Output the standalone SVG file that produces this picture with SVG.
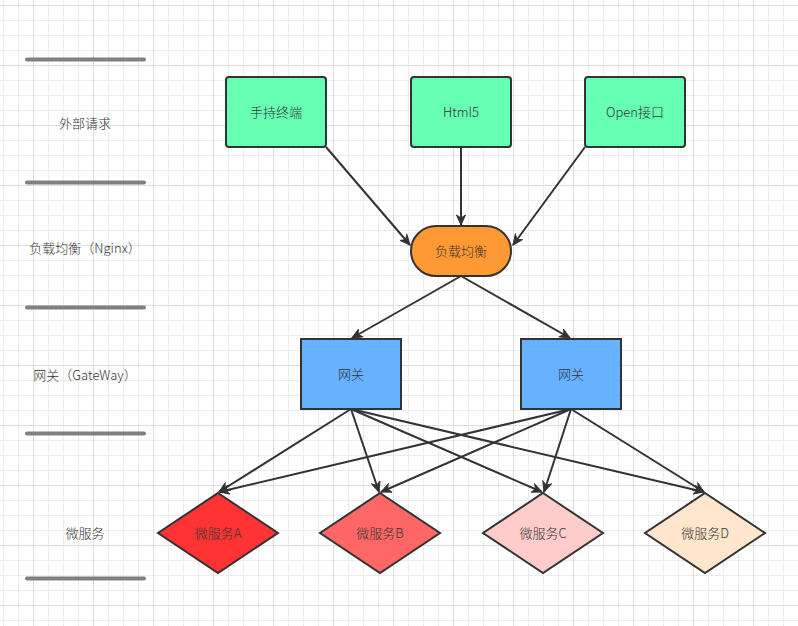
<svg xmlns="http://www.w3.org/2000/svg" width="798" height="626" viewBox="0 0 798 626">
<defs>
<pattern id="gridMinor" x="3" y="5" width="15" height="15" patternUnits="userSpaceOnUse">
<path d="M0.5,0 V15 M0,0.5 H15" fill="none" stroke="#ececec" stroke-width="1"/>
</pattern>
<pattern id="gridMajor" x="33" y="5" width="60" height="60" patternUnits="userSpaceOnUse">
<path d="M0.5,0 V60 M0,0.5 H60" fill="none" stroke="#dedede" stroke-width="1"/>
</pattern>
<marker id="arrow" viewBox="-11 -5 12 10" refX="0" refY="0" markerWidth="12" markerHeight="10" markerUnits="userSpaceOnUse" orient="auto">
<path d="M0,0 L-10,-4.5 L-7,0 L-10,4.5 Z" fill="#333333" stroke="#333333" stroke-width="1" stroke-linejoin="miter"/>
</marker>
<style>
.lbl{font-family:"Noto Sans CJK SC","Microsoft YaHei",sans-serif;font-size:13px;font-weight:300;fill:#333333;text-anchor:middle}
.bar{stroke:#808080;stroke-width:4;stroke-linecap:round;fill:none}
.node{stroke:#333333;stroke-width:2}
.edge{stroke:#333333;stroke-width:2;fill:none;marker-end:url(#arrow)}
</style>
</defs>
<rect width="798" height="626" fill="#ffffff"/>
<rect width="798" height="626" fill="url(#gridMinor)"/>
<rect width="798" height="626" fill="url(#gridMajor)"/>

<g id="lanes">
<line class="bar" x1="27" y1="59.5" x2="144" y2="59.5"/>
<line class="bar" x1="27" y1="182.5" x2="144" y2="182.5"/>
<line class="bar" x1="27" y1="307.5" x2="144" y2="307.5"/>
<line class="bar" x1="27" y1="433.5" x2="144" y2="433.5"/>
<line class="bar" x1="27" y1="578.5" x2="144" y2="578.5"/>
<text class="lbl" x="85" y="128">外部请求</text>
<text class="lbl" x="85" y="252.5">负载均衡（Nginx）</text>
<text class="lbl" x="85" y="379.5">网关（GateWay）</text>
<text class="lbl" x="85" y="537.5">微服务</text>
</g>

<g id="connectors">
<line class="edge" x1="326" y1="147" x2="410" y2="245"/>
<line class="edge" x1="461" y1="147" x2="461" y2="225"/>
<line class="edge" x1="585" y1="147" x2="513" y2="245"/>
<line class="edge" x1="461" y1="276" x2="352" y2="338"/>
<line class="edge" x1="461" y1="276" x2="570" y2="338"/>
<line class="edge" x1="351" y1="409" x2="219" y2="492"/>
<line class="edge" x1="351" y1="409" x2="379" y2="492"/>
<line class="edge" x1="351" y1="409" x2="542" y2="492"/>
<line class="edge" x1="351" y1="409" x2="704" y2="492"/>
<line class="edge" x1="571" y1="409" x2="219" y2="492"/>
<line class="edge" x1="571" y1="409" x2="381" y2="492"/>
<line class="edge" x1="571" y1="409" x2="544" y2="492"/>
<line class="edge" x1="571" y1="409" x2="704" y2="492"/>
</g>

<g id="n-mobile">
<rect class="node" x="226" y="77" width="100" height="70" rx="3" fill="#66FFB3"/>
<text class="lbl" x="276" y="116.5">手持终端</text>
</g>
<g id="n-html5">
<rect class="node" x="411" y="77" width="100" height="70" rx="3" fill="#66FFB3"/>
<text class="lbl" x="461" y="116.5">Html5</text>
</g>
<g id="n-open">
<rect class="node" x="585" y="77" width="100" height="70" rx="3" fill="#66FFB3"/>
<text class="lbl" x="635" y="116.5">Open接口</text>
</g>
<g id="n-lb">
<rect class="node" x="411" y="226" width="100" height="50" rx="25" fill="#FF9933"/>
<text class="lbl" x="461" y="255.5">负载均衡</text>
</g>
<g id="n-gw1">
<rect class="node" x="301" y="339" width="100" height="70" fill="#66B2FF"/>
<text class="lbl" x="351" y="378.5">网关</text>
</g>
<g id="n-gw2">
<rect class="node" x="521" y="339" width="100" height="70" fill="#66B2FF"/>
<text class="lbl" x="571" y="378.5">网关</text>
</g>
<g id="n-msA">
<polygon class="node" points="218,493 278,533 218,573 158,533" fill="#FF3333"/>
<text class="lbl" x="218" y="537.5">微服务A</text>
</g>
<g id="n-msB">
<polygon class="node" points="380,493 440,533 380,573 320,533" fill="#FF6666"/>
<text class="lbl" x="380" y="537.5">微服务B</text>
</g>
<g id="n-msC">
<polygon class="node" points="543,493 603,533 543,573 483,533" fill="#FFCCCC"/>
<text class="lbl" x="543" y="537.5">微服务C</text>
</g>
<g id="n-msD">
<polygon class="node" points="705,493 765,533 705,573 645,533" fill="#FFE6CC"/>
<text class="lbl" x="705" y="537.5">微服务D</text>
</g>
</svg>
